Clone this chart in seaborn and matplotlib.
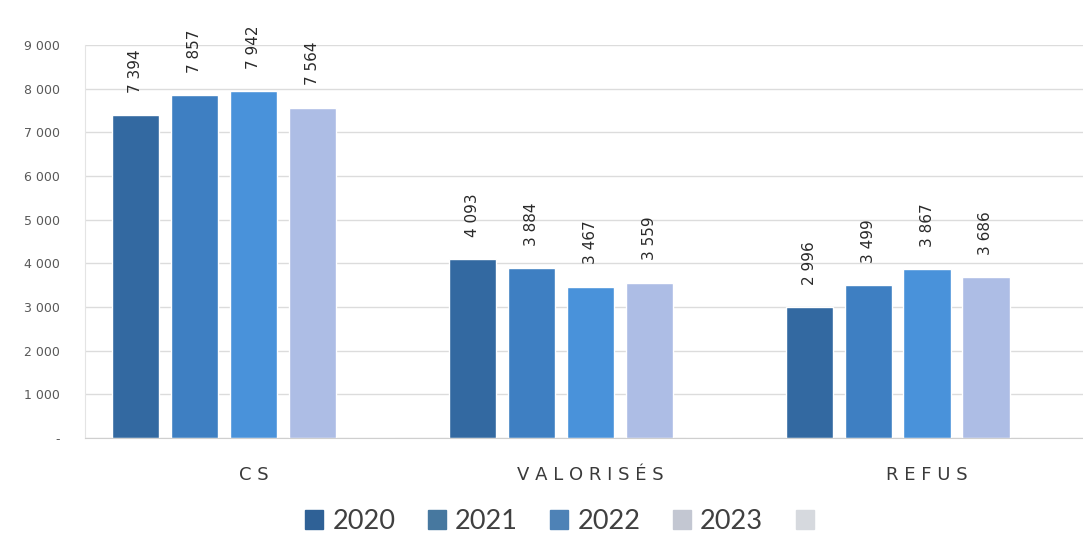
import matplotlib
matplotlib.use("Agg")
import matplotlib.pyplot as plt
import seaborn as sns
import pandas as pd
from matplotlib.patches import Patch

# data
categories = ["CS", "VALORISÉS", "REFUS"]
years = ["2020", "2021", "2022", "2023", " "]
v2020 = [7394, 4093, 2996]
v2021 = [7857, 3884, 3499]
v2022 = [7942, 3467, 3867]
v2023 = [7564, 3559, 3686]
v_blank = [0, 0, 0]
colors = ["#3369a1", "#3e7fc2", "#4992da", "#adbde5", "#d5d8dd"]
legend_colors = ["#2f6196", "#47789f", "#4e82b6", "#c3c7d2", "#d6d9de"]

rows = []
for yr, vals in zip(years, [v2020, v2021, v2022, v2023, v_blank]):
    for cat, v in zip(categories, vals):
        rows.append({"cat": cat, "year": yr, "val": v})
df = pd.DataFrame(rows)

sns.set_style("white")
fig = plt.figure(figsize=(10.83, 5.4), dpi=100)
ax = fig.add_axes([0.0785, 0.189, 0.9215, 0.7277])

sns.barplot(data=df, x="cat", y="val", hue="year", hue_order=years,
            palette=colors, saturation=1, width=0.875, gap=0.2, ax=ax,
            legend=False, order=categories, errorbar=None)

# value labels
for cont, yr in zip(ax.containers, years):
    if yr.strip() == "":
        continue
    for bar in cont:
        h = bar.get_height()
        ax.annotate(f"{int(h):,}".replace(",", " "),
                    (bar.get_x() + bar.get_width() / 2, h),
                    xytext=(0, 16), textcoords="offset points",
                    rotation=90, ha="center", va="bottom",
                    fontsize=11, color="#2a2a2a")

ax.set_ylim(0, 9000)
ax.set_xlim(-0.5, 2.463)
ax.set_yticks(range(0, 9001, 1000))
ax.set_yticklabels(["-"] + [f"{v:,}".replace(",", " ") for v in range(1000, 9001, 1000)],
                   fontsize=9, color="#595959")
ax.grid(axis="y", color="#dcdcdc", linewidth=1)
ax.set_axisbelow(True)
ax.set_xticks(range(len(categories)))
ax.set_xticklabels([" ".join(c) for c in categories], fontsize=13, color="#3a3a3a")
ax.tick_params(axis="x", length=0, pad=20)
ax.tick_params(axis="y", length=0, pad=18)
ax.set_xlabel("")
ax.set_ylabel("")
for s in ["top", "right"]:
    ax.spines[s].set_visible(False)
ax.spines["left"].set_color("#e4e4e4")
ax.spines["bottom"].set_color("#cfcfcf")

handles = [Patch(color=c) for c in legend_colors]
fig.legend(handles, years, loc="center", bbox_to_anchor=(0.524, 0.034), ncol=5,
           frameon=False, prop={"family": "Lato", "size": 19.5},
           handlelength=0.67, handleheight=0.67,
           handletextpad=0.33, columnspacing=1.2, labelcolor="#404040")

fig.savefig("out.png", dpi=100)
